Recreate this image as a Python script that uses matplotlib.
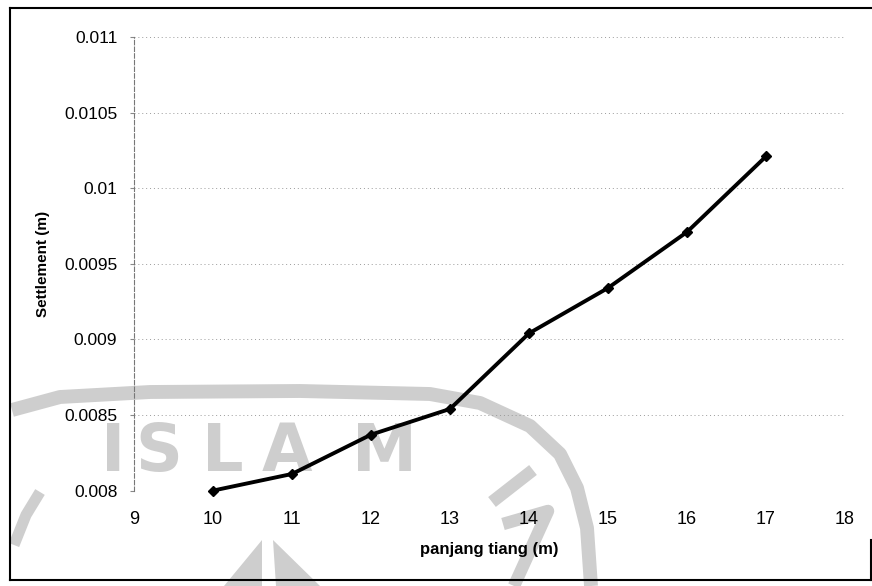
import matplotlib.pyplot as plt
from matplotlib.patches import Polygon

plt.rcParams['font.family'] = ['Liberation Sans', 'DejaVu Sans']

# data
panjang = [10, 11, 12, 13, 14, 15, 16, 17]
settlement = [0.0080, 0.00811, 0.00837, 0.00854, 0.00904, 0.00934, 0.00971, 0.01021]
yticks = [0.008, 0.0085, 0.009, 0.0095, 0.01, 0.0105, 0.011]
ytick_labels = ['0.008', '0.0085', '0.009', '0.0095', '0.01', '0.0105', '0.011']
xticks = [9, 10, 11, 12, 13, 14, 15, 16, 17, 18]
watermark = ['I', 'S', 'L', 'A', 'M']

W, H = 872, 586
fig = plt.figure(figsize=(W / 100, H / 100), dpi=100)
ax = fig.add_axes([0.1537, 0.1628, 0.8153, 0.7741])
ax.set_zorder(2)


def px(xs, ys):
    # pixel positions (from top-left) -> figure fraction
    return [v / W for v in xs], [1 - v / H for v in ys]


# faint logo watermark from the scan, drawn behind the chart
wm_col = '#cecece'
for ch, x in zip(watermark, [113, 159, 223, 287, 384]):
    fig.text(x / W, 1 - 471 / H, ch, fontsize=47, fontweight='bold',
             family='DejaVu Sans', color=wm_col, ha='center', va='baseline', zorder=0)


def stroke(xs, ys, lw):
    fx, fy = px(xs, ys)
    fig.add_artist(plt.Line2D(fx, fy, color=wm_col, lw=lw,
                              solid_capstyle='butt', solid_joinstyle='round', zorder=0))


stroke([12, 60, 150, 300, 430, 480, 530, 560, 577, 587, 591],
       [410, 397, 392, 391, 394, 403, 426, 454, 488, 528, 586], 10)
stroke([492, 533], [502, 470], 9)
stroke([503, 548, 514], [524, 511, 586], 9)
stroke([40, 26, 14], [492, 515, 545], 8)
for tri in ([(262, 540), (224, 586), (262, 586)], [(273, 540), (276, 586), (320, 586)]):
    fx, fy = px([p[0] for p in tri], [p[1] for p in tri])
    fig.add_artist(Polygon(list(zip(fx, fy)), closed=True, facecolor=wm_col,
                           edgecolor='none', transform=fig.transFigure, zorder=0))

ax.plot(panjang, settlement, color='black', lw=2.8, marker='D', markersize=5.5,
        zorder=5, clip_on=False)

ax.set_xlim(9, 18)
ax.set_ylim(0.008, 0.011)
ax.set_xticks(xticks)
ax.set_yticks(yticks)
ax.set_yticklabels(ytick_labels)

ax.grid(axis='y', color='#9a9a9a', linestyle=(0, (1, 3)), lw=0.7)
ax.set_axisbelow(True)
ax.patch.set_alpha(0)

for s in ['top', 'right', 'bottom']:
    ax.spines[s].set_visible(False)
ax.spines['left'].set_color('#777777')
ax.spines['left'].set_linestyle((0, (4, 2)))
ax.spines['left'].set_linewidth(0.8)

ax.tick_params(axis='x', length=0, pad=15, labelsize=13)
ax.tick_params(axis='y', length=3, color='#888888', pad=9, labelsize=12.5)

ax.set_xlabel('panjang tiang (m)', fontsize=12, fontweight='bold', labelpad=10)
ax.set_ylabel('Settlement (m)', fontsize=11, fontweight='bold', labelpad=10)

# outer chart frame (right edge only shows near the bottom of the scan)
for xs, ys in (([10, 871], [8, 8]), ([10, 10], [8, 580]), ([10, 871], [580, 580]),
               ([871, 871], [540, 580])):
    fx, fy = px(xs, ys)
    fig.add_artist(plt.Line2D(fx, fy, color='black', lw=1.5, zorder=3))

fig.savefig('out.png', dpi=100)
